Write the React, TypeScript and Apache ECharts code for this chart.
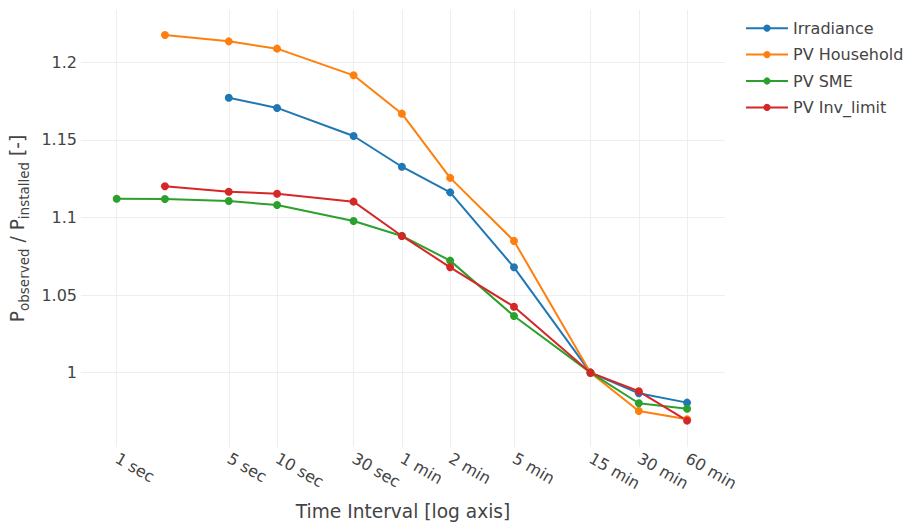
import React, { useEffect, useRef } from 'react';
import * as echarts from 'echarts';

const tickSeconds = [1, 5, 10, 30, 60, 120, 300, 900, 1800, 3600];
const tickLabels = ['1 sec', '5 sec', '10 sec', '30 sec', '1 min', '2 min', '5 min', '15 min', '30 min', '60 min'];

const irradianceSec = [5, 10, 30, 60, 120, 300, 900, 1800, 3600];
const irradianceVal = [1.1772, 1.1706, 1.1525, 1.1327, 1.1162, 1.0679, 1.0, 0.9867, 0.9807];

const householdSec = [2, 5, 10, 30, 60, 120, 300, 900, 1800, 3600];
const householdVal = [1.2176, 1.2135, 1.2088, 1.1916, 1.1669, 1.1255, 1.0849, 1.0, 0.9753, 0.97];

const smeSec = [1, 2, 5, 10, 30, 60, 120, 300, 900, 1800, 3600];
const smeVal = [1.1121, 1.1119, 1.1106, 1.108, 1.0977, 1.0881, 1.0722, 1.0365, 1.0, 0.9803, 0.9768];

const invSec = [2, 5, 10, 30, 60, 120, 300, 900, 1800, 3600];
const invVal = [1.1201, 1.1166, 1.1153, 1.1102, 1.0881, 1.0679, 1.0425, 1.0, 0.988, 0.9691];

const seriesNames = ['Irradiance', 'PV Household', 'PV SME', 'PV Inv_limit'];
const seriesColors = ['#1f77b4', '#ff7f0e', '#2ca02c', '#d62728'];

export default function App() {
  const ref = useRef<HTMLDivElement>(null);
  useEffect(() => {
    document.body.style.margin = '0';
    const chart = echarts.init(ref.current!, null, { renderer: 'svg' });
    const font = '"DejaVu Sans", Verdana, sans-serif';
    const toPts = (xs: number[], ys: number[]) => xs.map((s, i) => [Math.log10(s), ys[i]]);
    const data = [
      toPts(irradianceSec, irradianceVal),
      toPts(householdSec, householdVal),
      toPts(smeSec, smeVal),
      toPts(invSec, invVal),
    ];
    const tickLogs = tickSeconds.map((s) => Math.log10(s));
    chart.setOption({
      animation: false,
      textStyle: { fontFamily: font },
      grid: { left: 80, right: 182, top: 10, bottom: 79, containLabel: false },
      legend: {
        orient: 'vertical',
        left: 740,
        top: 10,
        itemWidth: 42,
        itemHeight: 9,
        itemGap: 0,
        data: seriesNames,
        textStyle: { fontFamily: font, fontSize: 16, lineHeight: 26.4, color: '#444' },
      },
      xAxis: {
        type: 'value',
        min: -0.2222,
        max: 3.7927,
        name: 'Time Interval [log axis]',
        nameLocation: 'middle',
        nameGap: 55,
        nameTextStyle: { fontFamily: font, fontSize: 18.6, color: '#444' },
        axisLine: { show: false },
        axisTick: { show: false, customValues: tickLogs },
        axisLabel: {
          customValues: tickLogs,
          rotate: -30,
          margin: 10,
          fontSize: 16,
          color: '#444',
          fontFamily: font,
          formatter: (v: number) => {
            const i = tickLogs.findIndex((t) => Math.abs(t - v) < 1e-6);
            return i >= 0 ? tickLabels[i] : '';
          },
        },
        splitLine: { show: true, lineStyle: { color: '#eeeeee', width: 1 } },
      },
      yAxis: {
        type: 'value',
        min: 0.9521,
        max: 1.2337,
        splitNumber: 5,
        name: '{a|P}{b|observed}{a| / P}{b|installed}{a| [-]}',
        nameLocation: 'middle',
        nameRotate: 90,
        nameGap: 46,
        nameTextStyle: {
          color: '#444',
          fontFamily: font,
          rich: {
            a: { fontSize: 18.6, lineHeight: 26, color: '#444', fontFamily: font },
            b: { fontSize: 13.5, lineHeight: 10, verticalAlign: 'bottom', color: '#444', fontFamily: font },
          },
        },
        axisLine: { show: false },
        axisTick: { show: false },
        axisLabel: {
          fontSize: 16,
          color: '#444',
          fontFamily: font,
          margin: 4,
          showMinLabel: false,
          showMaxLabel: false,
        },
        splitLine: { show: true, showMinLine: false, showMaxLine: false, lineStyle: { color: '#eeeeee', width: 1 } },
      },
      series: seriesNames.map((name, i) => ({
        name,
        type: 'line',
        data: data[i],
        symbol: 'circle',
        symbolSize: 8,
        lineStyle: { width: 2, color: seriesColors[i] },
        itemStyle: { color: seriesColors[i] },
      })),
    });
    return () => chart.dispose();
  }, []);
  return <div ref={ref} style={{ width: 907, height: 526 }} />;
}
